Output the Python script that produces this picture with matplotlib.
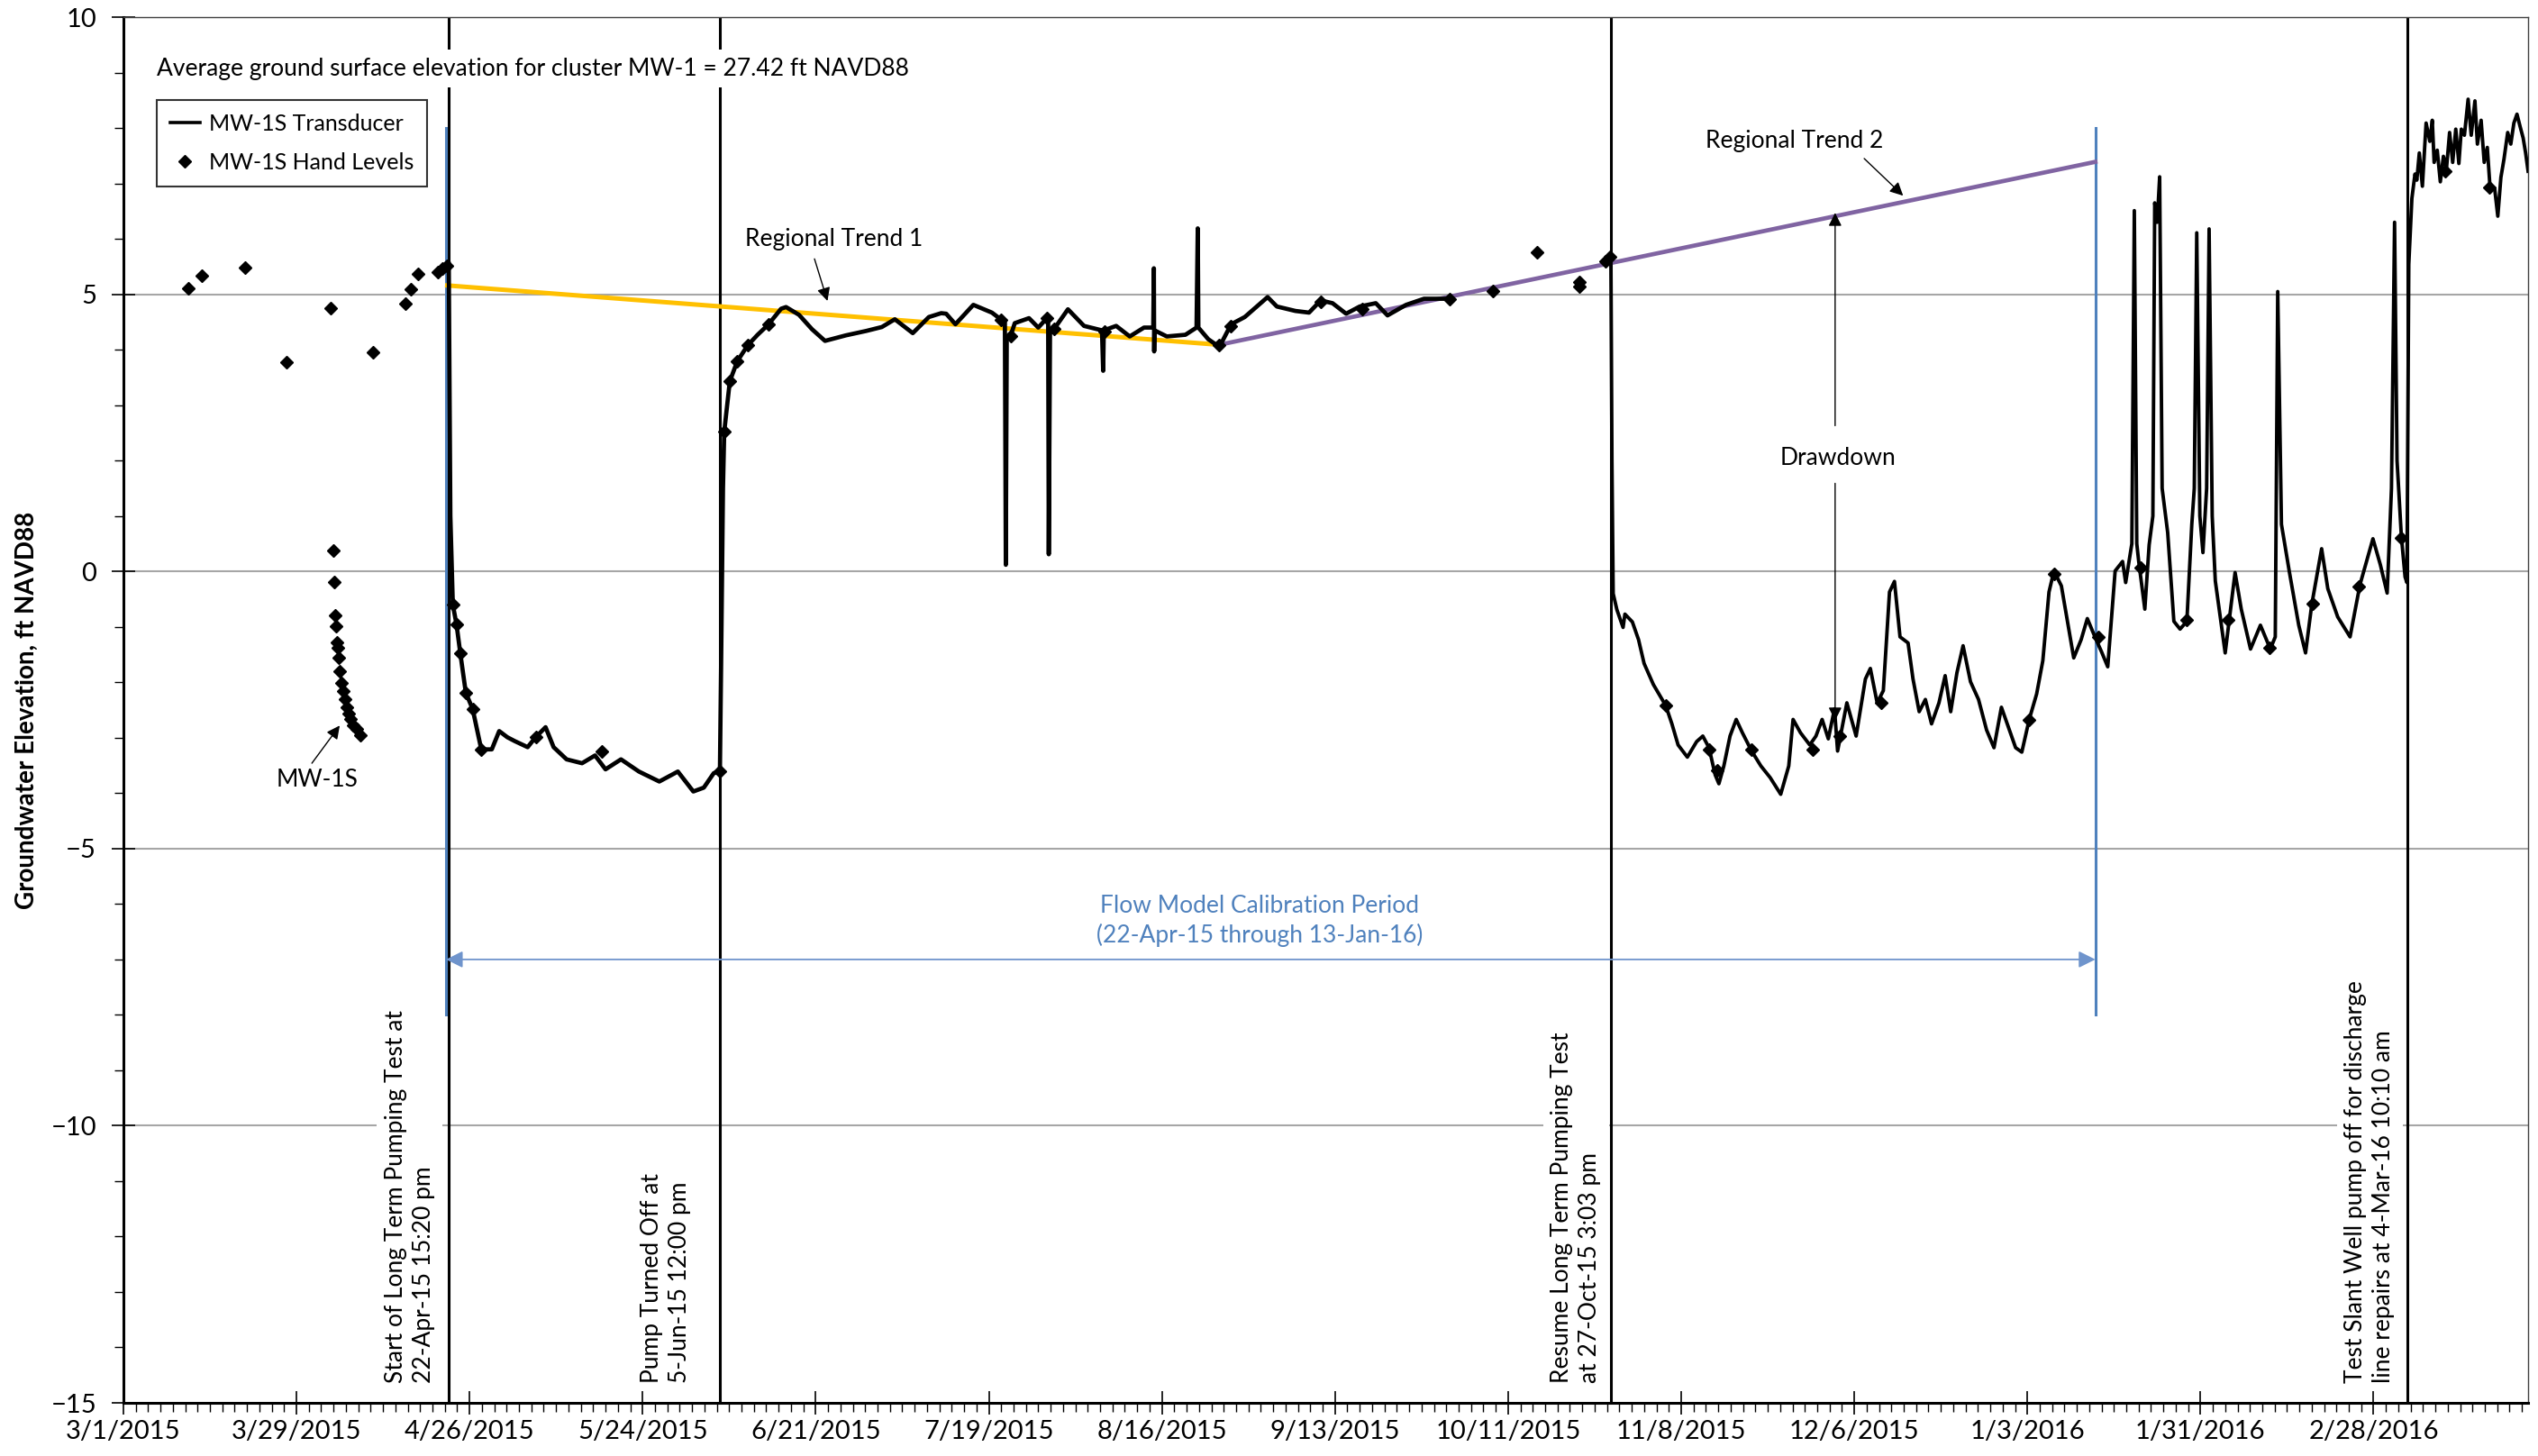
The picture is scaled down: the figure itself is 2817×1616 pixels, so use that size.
import numpy as np
import pandas as pd
import matplotlib
matplotlib.use("Agg")
import matplotlib.pyplot as plt
import matplotlib.dates as mdates
from matplotlib.lines import Line2D
from matplotlib.ticker import FuncFormatter, MultipleLocator

plt.rcParams["font.family"] = ["Lato", "DejaVu Sans"]

# days counted from 1-Mar-2015
FECHA_BASE = "2015-03-01"

# transducer, first run (22-Apr-15 to 1-Oct-15)
dias_trans1 = [52.64, 52.9, 53.3, 53.9, 54.5, 55.4, 56.5, 57.9, 59.6, 60.8, 62.1, 63.3, 65.4, 66.7,
               68.3, 69.6, 71.7, 74.2, 76.3, 78.0, 80.5, 83.4, 86.7, 89.7, 92.2, 93.9, 95.5, 96.5,
               96.7, 97.0, 97.2, 98.1, 99.3, 101.0, 102.6, 104.3, 106.4, 107.2, 109.3, 111.4, 113.5,
               116.9, 120.2, 122.7, 124.8, 127.7, 130.3, 132.3, 133.1, 134.6, 137.5, 140.5, 142.4,
               142.6, 142.75, 142.9, 143.5, 144.2, 146.5, 148.0, 149.4, 149.6, 149.7, 149.9, 150.6,
               152.8, 155.4, 158.3, 158.5, 158.6, 160.6, 162.8, 165.1, 166.6, 166.7, 166.75, 166.8,
               168.8, 171.8, 173.6, 173.8, 173.9, 175.5, 177.3, 179.2, 181.4, 185.1, 186.6, 189.6,
               191.8, 193.7, 195.6, 197.8, 200.0, 202.6, 204.5, 207.5, 210.4, 214.2, 214.9]
nivel_trans1 = [5.55, 1.0, -0.60, -0.96, -1.47, -2.19, -2.48, -3.21, -3.21, -2.88, -2.99, -3.06, -3.17, -2.99,
                -2.81, -3.17, -3.39, -3.46, -3.32, -3.57, -3.39, -3.61, -3.79, -3.61, -3.97, -3.90, -3.64, -3.61,
                -1.65, 1.50, 2.52, 3.43, 3.79, 4.08, 4.27, 4.45, 4.74, 4.77, 4.63, 4.37, 4.16,
                4.26, 4.34, 4.41, 4.55, 4.30, 4.59, 4.66, 4.65, 4.46, 4.81, 4.67, 4.51,
                4.50, 0.12, 4.20, 4.24, 4.48, 4.57, 4.40, 4.57, 4.55, 0.31, 4.30, 4.38,
                4.73, 4.43, 4.35, 3.62, 4.35, 4.43, 4.24, 4.40, 4.40, 5.47, 3.97, 4.35,
                4.24, 4.27, 4.40, 6.19, 4.40, 4.19, 4.05, 4.46, 4.59, 4.95, 4.78, 4.70,
                4.67, 4.89, 4.84, 4.65, 4.78, 4.84, 4.62, 4.81, 4.92, 4.92, 4.92]

# transducer, second run (27-Oct-15 to end)
dias_trans2 = [240.63, 240.8, 241.0, 241.6, 242.6, 242.9, 244.1, 245.1, 246.0, 247.5, 249.5, 250.5, 251.5,
               253.0, 254.5, 255.5, 256.5, 257.5, 258.1, 258.9, 259.9, 260.9, 261.9, 263.4, 264.9, 266.4,
               268.1, 269.4, 270.1, 271.3, 272.8, 273.8, 274.8, 275.8, 276.8, 277.3, 278.8, 280.3, 281.8,
               282.6, 283.7, 284.7, 285.7, 286.5, 287.4, 288.7, 289.5, 290.5, 291.5, 292.5, 293.7, 294.7,
               295.6, 296.6, 297.6, 298.8, 300.1, 301.4, 302.6, 303.8, 305.1, 306.1, 307.1, 308.3, 309.5,
               310.5, 311.5, 312.3, 313.5, 314.5, 315.5, 316.7, 317.7, 319.0, 320.0, 321.0, 322.2, 323.4,
               323.9, 324.9, 325.3, 325.7, 326.0, 327.0, 327.7, 328.3, 328.6, 329.0, 329.4, 329.8, 330.7,
               331.7, 332.7, 333.8, 334.6, 335.0, 335.4, 335.9, 336.4, 337.0, 337.4, 337.9, 338.4, 340.0,
               341.6, 342.6, 344.1, 345.7, 347.3, 348.1, 348.5, 349.1, 350.4, 351.9, 353.0, 354.0, 355.6,
               356.6, 358.2, 360.2, 361.8, 363.9, 365.1, 366.2, 366.9, 367.4, 367.8, 368.5, 369.1, 369.4,
               369.7, 370.2, 370.7, 371.0, 371.4, 371.9, 372.5, 373.1, 373.5, 373.8, 374.3, 374.8, 375.3,
               375.8, 376.3, 376.8, 377.3, 377.8, 378.2, 378.7, 379.3, 379.8, 380.4, 380.8, 381.4, 381.9,
               382.4, 382.8, 383.6, 384.1, 384.6, 385.1, 385.7, 386.2, 386.7, 387.2, 387.7, 388.2, 388.6,
               389.0]
nivel_trans2 = [5.65, 2.0, -0.40, -0.69, -1.01, -0.77, -0.91, -1.23, -1.66, -2.04, -2.42, -2.75, -3.13,
                -3.35, -3.07, -2.97, -3.18, -3.67, -3.83, -3.51, -2.97, -2.67, -2.91, -3.24, -3.51, -3.72,
                -4.02, -3.51, -2.67, -2.91, -3.13, -2.97, -2.67, -3.02, -2.48, -3.24, -2.37, -2.97, -1.94,
                -1.75, -2.37, -2.15, -0.37, -0.18, -1.18, -1.29, -1.94, -2.53, -2.31, -2.75, -2.37, -1.88,
                -2.53, -1.83, -1.34, -1.99, -2.31, -2.86, -3.18, -2.45, -2.86, -3.18, -3.26, -2.67, -2.21,
                -1.61, -0.37, 0.01, -0.26, -0.91, -1.56, -1.23, -0.85, -1.20, -1.45, -1.72, 0.01, 0.18,
                -0.20, 0.50, 6.51, 0.50, 0.19, -0.68, 0.48, 1.00, 6.65, 6.30, 7.12, 1.50, 0.70,
                -0.90, -1.04, -0.90, 0.85, 1.50, 6.11, 1.00, 0.34, 1.50, 6.18, 1.00, -0.17, -1.47,
                -0.02, -0.68, -1.40, -0.97, -1.40, -1.18, 5.05, 0.85, -0.02, -0.97, -1.47, -0.60, 0.41,
                -0.31, -0.82, -1.18, -0.24, 0.59, 0.12, -0.39, 1.50, 6.30, 2.00, 0.63, -0.10, -0.20,
                5.54, 6.73, 7.17, 7.06, 7.55, 6.95, 8.09, 7.76, 8.14, 7.38, 7.60, 7.03, 7.49,
                7.27, 7.92, 7.38, 7.98, 7.36, 7.98, 7.87, 8.52, 7.87, 8.49, 7.71, 8.14, 7.38,
                7.65, 7.00, 6.90, 6.41, 7.11, 7.44, 7.92, 7.71, 8.09, 8.25, 8.03, 7.82, 7.55,
                7.22]

# hand levels
dias_manual = [10.5, 12.7, 19.7, 26.4, 33.5, 34.0, 34.1, 34.3, 34.4, 34.6, 34.7, 34.8, 35.0, 35.3, 35.6,
               35.9, 36.2, 36.4, 36.7, 37.2, 37.7, 38.3, 40.4, 45.6, 46.5, 47.6, 50.9, 51.6, 52.3,
               53.3, 53.9, 54.5, 55.4, 56.5, 57.9, 66.7, 77.4, 96.5, 97.2, 98.1, 99.3, 101.0, 104.3,
               142.0, 143.5, 149.4, 150.6, 158.7, 177.3, 179.2, 193.7, 200.4, 214.5, 221.6, 228.7,
               235.6, 235.6, 239.8, 240.5, 249.5, 256.5, 257.8, 263.4, 273.3, 277.6, 284.4, 308.3,
               312.3, 319.5, 326.4, 333.8, 340.5, 347.2, 354.2, 361.6, 368.4, 375.6, 382.8]
nivel_manual = [5.11, 5.34, 5.48, 3.77, 4.75, 0.38, -0.19, -0.79, -0.99, -1.28, -1.38, -1.56, -1.80, -2.01, -2.16,
                -2.30, -2.45, -2.57, -2.66, -2.78, -2.84, -2.96, 3.95, 4.83, 5.09, 5.37, 5.40, 5.46, 5.51,
                -0.60, -0.96, -1.47, -2.19, -2.48, -3.21, -2.99, -3.25, -3.61, 2.52, 3.43, 3.79, 4.08, 4.45,
                4.54, 4.25, 4.57, 4.38, 4.33, 4.08, 4.42, 4.86, 4.73, 4.91, 5.06, 5.76,
                5.22, 5.14, 5.60, 5.68, -2.42, -3.21, -3.59, -3.21, -3.21, -2.97, -2.37, -2.67,
                -0.04, -1.18, 0.07, -0.88, -0.88, -1.37, -0.58, -0.28, 0.61, 7.22, 6.93]

# regional trend lines (start, break, end)
dias_tendencia1 = [52.4, 177.3]
nivel_tendencia1 = [5.16, 4.09]
dias_tendencia2 = [177.3, 319.0]
nivel_tendencia2 = [4.09, 7.39]

# events (vertical lines) and calibration period limits
dias_eventos = [52.64, 96.5, 240.63, 369.42]
dias_calibracion = [52.2, 319.0]

# axis
DIAS_TOTAL = 389
Y_MIN, Y_MAX = -15, 10


def fecha(d):
    # day offset -> matplotlib date number
    return mdates.date2num(pd.Timestamp(FECHA_BASE)) + np.asarray(d, dtype=float)


fig = plt.figure(figsize=(28.17, 16.16), dpi=100)
ax = fig.add_axes([0.0486, 0.0365, 0.9475, 0.9517])

# gridlines
for v in [5, 0, -5, -10]:
    ax.axhline(v, color="#a6a6a6", lw=1.5, zorder=0)

# event lines
for d in dias_eventos:
    ax.axvline(fecha(d), color="black", lw=2.2, zorder=1)

# calibration period
for d in dias_calibracion:
    ax.plot([fecha(d)] * 2, [8, -8], color="#4f81bd", lw=2.2, zorder=2)
ax.annotate("", xy=(fecha(dias_calibracion[0]), -7), xytext=(fecha(dias_calibracion[1]), -7),
            arrowprops=dict(arrowstyle="<|-|>", color="#6f94cc", lw=1.3, mutation_scale=28,
                            shrinkA=0, shrinkB=0), zorder=2)
ax.text(fecha(183.8), -6.3, "Flow Model Calibration Period\n(22-Apr-15 through 13-Jan-16)",
        color="#4f81bd", fontsize=19, ha="center", va="center", linespacing=1.35)

# trend lines
ax.plot(fecha(dias_tendencia1), nivel_tendencia1, color="#ffc000", lw=3.6, zorder=3)
ax.plot(fecha(dias_tendencia2), nivel_tendencia2, color="#8064a2", lw=3.4, zorder=3)

# transducer and hand levels
ax.plot(fecha(dias_trans1), nivel_trans1, color="black", lw=3.4, zorder=4)
ax.plot(fecha(dias_trans2), nivel_trans2, color="black", lw=2.8, zorder=4)
ax.plot(fecha(dias_manual), nivel_manual, linestyle="none", marker="D", markersize=7.5,
        color="black", zorder=5)

# labels with arrows
flecha = dict(arrowstyle="-|>", color="black", lw=1.0, mutation_scale=22, shrinkA=0, shrinkB=0)
ax.annotate("", xy=(fecha(113.9), 4.88), xytext=(fecha(111.8), 5.64), arrowprops=flecha)
ax.text(fecha(114.9), 5.99, "Regional Trend 1", fontsize=19, ha="center", va="center")
ax.annotate("", xy=(fecha(287.9), 6.78), xytext=(fecha(281.6), 7.45), arrowprops=flecha)
ax.text(fecha(270.3), 7.76, "Regional Trend 2", fontsize=19, ha="center", va="center")
ax.annotate("", xy=(fecha(276.9), 6.47), xytext=(fecha(276.9), 2.63), arrowprops=flecha)
ax.annotate("", xy=(fecha(276.9), -2.69), xytext=(fecha(276.9), 1.59), arrowprops=flecha)
ax.text(fecha(277.4), 2.04, "Drawdown", fontsize=19, ha="center", va="center")
ax.annotate("", xy=(fecha(35.0), -2.78), xytext=(fecha(30.5), -3.46), arrowprops=flecha)
ax.text(fecha(31.3), -3.76, "MW-1S", fontsize=19, ha="center", va="center")

caja = dict(facecolor="white", edgecolor="none", pad=6)
ax.text(fecha(5.4), 9.07, "Average ground surface elevation for cluster MW-1 = 27.42 ft NAVD88",
        fontsize=19, ha="left", va="center", bbox=caja, zorder=6)

# rotated event notes
notas = [(50.4, "Start of Long Term Pumping Test at\n22-Apr-15 15:20 pm"),
         (91.8, "Pump Turned Off at\n5-Jun-15 12:00 pm"),
         (239.1, "Resume Long Term Pumping Test\nat 27-Oct-15 3:03 pm"),
         (367.5, "Test Slant Well pump off for discharge\nline repairs at 4-Mar-16 10:10 am")]
for d, txt in notas:
    ax.text(fecha(d), -14.65, txt, rotation=90, fontsize=19, ha="right", va="bottom",
            multialignment="left", linespacing=1.3, bbox=caja, zorder=6)

# legend
manejadores = [Line2D([], [], color="black", lw=2.6),
               Line2D([], [], color="black", linestyle="none", marker="D", markersize=7.5)]
ley = ax.legend(manejadores, ["MW-1S Transducer", "MW-1S Hand Levels"], loc="upper left",
                bbox_to_anchor=(0.0139, 0.9402), fontsize=18, frameon=True, fancybox=False,
                edgecolor="black", handlelength=1.3, labelspacing=0.8, borderpad=0.6,
                handletextpad=0.4, borderaxespad=0)
ley.get_frame().set_linewidth(1.5)

# ticks first, then limits (set_xticks would widen the view otherwise)
marcas = pd.date_range(FECHA_BASE, periods=14, freq="28D")
ax.set_xticks(mdates.date2num(marcas))
ax.set_xticks(mdates.date2num(pd.date_range(FECHA_BASE, periods=195, freq="2D")), minor=True)
ax.xaxis.set_major_formatter(FuncFormatter(
    lambda v, p: f"{mdates.num2date(v).month}/{mdates.num2date(v).day}/{mdates.num2date(v).year}"))
ax.yaxis.set_major_locator(MultipleLocator(5))
ax.yaxis.set_minor_locator(MultipleLocator(1))
ax.set_xlim(fecha(0), fecha(DIAS_TOTAL))
ax.set_ylim(Y_MIN, Y_MAX)
ax.tick_params(axis="both", which="major", direction="inout", length=19, width=1.2, labelsize=21)
ax.tick_params(axis="x", which="major", pad=4)
ax.tick_params(axis="y", which="major", pad=12)
ax.tick_params(axis="both", which="minor", direction="out", length=7, width=1.0)
ax.set_ylabel("Groundwater Elevation, ft NAVD88", fontsize=20, fontweight="bold")
ax.yaxis.set_label_coords(-0.0352, 0.5)

for lado in ["left", "bottom"]:
    ax.spines[lado].set_linewidth(2.2)
for lado in ["top", "right"]:
    ax.spines[lado].set_linewidth(1.0)
    ax.spines[lado].set_color("#404040")

fig.savefig("out.png", dpi=100, facecolor="white")
